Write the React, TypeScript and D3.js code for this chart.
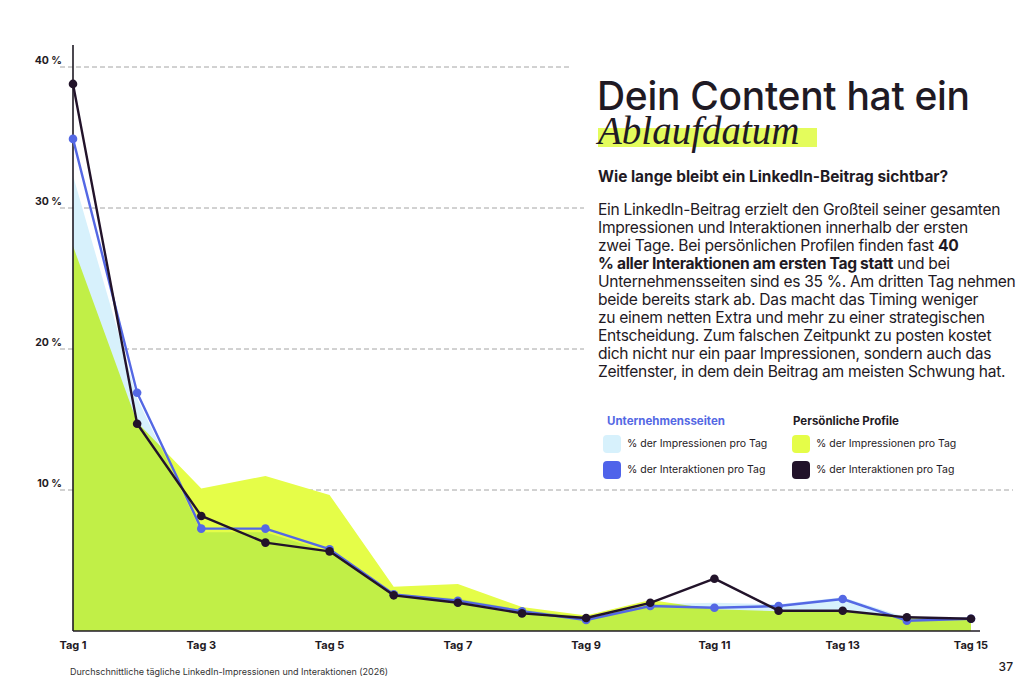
import React from "react";
import * as d3 from "d3";

const days = [1, 2, 3, 4, 5, 6, 7, 8, 9, 10, 11, 12, 13, 14, 15];
const companyImpressions = [32.3, 16.5, 7.0, 7.0, 5.6, 2.6, 2.3, 1.5, 1.0, 1.9, 2.0, 1.9, 2.4, 0.95, 1.0];
const companyInteractions = [34.9, 16.9, 7.26, 7.26, 5.8, 2.6, 2.15, 1.4, 0.78, 1.77, 1.65, 1.77, 2.27, 0.73, 0.87];
const personalImpressions = [27.3, 14.8, 10.1, 11.0, 9.65, 3.14, 3.33, 1.7, 1.1, 2.2, 1.55, 1.4, 1.4, 0.9, 0.85];
const personalInteractions = [38.8, 14.7, 8.16, 6.27, 5.65, 2.53, 2.0, 1.25, 0.92, 2.0, 3.71, 1.44, 1.44, 0.97, 0.87];
const yTicks = [10, 20, 30, 40];
const xTickDays = [1, 3, 5, 7, 9, 11, 13, 15];

const bodyLines: { t: string; b?: boolean }[][] = [
  [{ t: "Ein LinkedIn-Beitrag erzielt den Großteil seiner gesamten" }],
  [{ t: "Impressionen und Interaktionen innerhalb der ersten" }],
  [{ t: "zwei Tage. Bei persönlichen Profilen finden fast " }, { t: "40", b: true }],
  [{ t: "% aller Interaktionen am ersten Tag statt", b: true }, { t: " und bei" }],
  [{ t: "Unternehmensseiten sind es 35 %. Am dritten Tag nehmen" }],
  [{ t: "beide bereits stark ab. Das macht das Timing weniger" }],
  [{ t: "zu einem netten Extra und mehr zu einer strategischen" }],
  [{ t: "Entscheidung. Zum falschen Zeitpunkt zu posten kostet" }],
  [{ t: "dich nicht nur ein paar Impressionen, sondern auch das" }],
  [{ t: "Zeitfenster, in dem dein Beitrag am meisten Schwung hat." }],
];

const C = {
  lightBlue: "#d7f1fc",
  blue: "#5468e4",
  yellow: "#e5fd48",
  dark: "#22132a",
  grid: "#9a9a9a",
  text: "#1f1a24",
};

const SANS = "Inter, 'Noto Sans', sans-serif";

export default function App() {
  const W = 1024;
  const H = 683;
  const x = d3.scaleLinear().domain([1, 15]).range([73, 971]);
  const y = d3.scaleLinear().domain([0, 40]).range([631, 67]);

  const area = (vals: number[]) =>
    d3
      .area<number>()
      .x((_, i) => x(days[i]))
      .y0(y(0))
      .y1((d) => y(d))(vals) || "";
  const line = (vals: number[]) =>
    d3
      .line<number>()
      .x((_, i) => x(days[i]))
      .y((d) => y(d))(vals) || "";

  return (
    <svg
      width={W}
      height={H}
      viewBox={`0 0 ${W} ${H}`}
      style={{ position: "absolute", left: 0, top: 0, background: "#fff" }}
    >
      <rect x={0} y={0} width={W} height={H} fill="#fff" />
      {/* gridlines */}
      {yTicks.map((t) => (
        <g key={t}>
          <line
            x1={60}
            x2={t > 10 ? (t === 40 ? 572 : 584) : 1013}
            y1={y(t)}
            y2={y(t)}
            stroke={C.grid}
            strokeWidth={0.9}
            strokeDasharray="5 3"
          />
          <text
            x={62}
            y={y(t) - 3}
            textAnchor="end"
            fontFamily={SANS}
            fontWeight={700}
            fontSize={10.5}
            fill={C.text}
          >
            {t} %
          </text>
        </g>
      ))}
      {/* areas */}
      <g style={{ isolation: "isolate" }}>
        <path d={area(companyImpressions)} fill={C.lightBlue} />
        <path d={area(personalImpressions)} fill={C.yellow} style={{ mixBlendMode: "multiply" }} />
      </g>
      {/* axes */}
      <line x1={73} x2={73} y1={45} y2={631} stroke={C.text} strokeWidth={1.6} />
      <line x1={73} x2={980} y1={631} y2={631} stroke={C.text} strokeWidth={1.6} />
      {xTickDays.map((d) => (
        <text
          key={d}
          x={x(d)}
          y={649}
          textAnchor="middle"
          fontFamily={SANS}
          fontWeight={700}
          fontSize={11}
          fill={C.text}
        >
          Tag {d}
        </text>
      ))}
      {/* lines */}
      <path d={line(companyInteractions)} fill="none" stroke={C.blue} strokeWidth={2.4} strokeLinejoin="round" />
      {companyInteractions.map((v, i) => (
        <circle key={"b" + i} cx={x(days[i])} cy={y(v)} r={4.3} fill={C.blue} />
      ))}
      <path d={line(personalInteractions)} fill="none" stroke={C.dark} strokeWidth={2.4} strokeLinejoin="round" />
      {personalInteractions.map((v, i) => (
        <circle key={"k" + i} cx={x(days[i])} cy={y(v)} r={4.3} fill={C.dark} />
      ))}

      {/* title block */}
      <text x={597} y={110} fontFamily={SANS} fontWeight={500} fontSize={39} fill={C.text} letterSpacing={-0.3}>
        Dein Content hat ein
      </text>
      <rect x={598} y={128} width={219} height={19} fill="#e4fc5c" />
      <text
        x={598}
        y={144}
        fontFamily="'Liberation Serif', serif"
        fontStyle="italic"
        fontSize={39}
        fill={C.text}
      >
        Ablaufdatum
      </text>
      <text x={598} y={182} fontFamily={SANS} fontWeight={700} fontSize={15.4} fill={C.text}>
        Wie lange bleibt ein LinkedIn-Beitrag sichtbar?
      </text>
      {bodyLines.map((segs, i) => (
        <text key={i} x={598} y={215 + i * 18} fontFamily={SANS} fontSize={15.6} fill={C.text} letterSpacing={-0.3}>
          {segs.map((s, j) => (
            <tspan key={j} fontWeight={s.b ? 700 : 400}>
              {s.t}
            </tspan>
          ))}
        </text>
      ))}

      {/* legend */}
      <text x={607} y={425} fontFamily={SANS} fontWeight={700} fontSize={11.5} fill={C.blue}>
        Unternehmensseiten
      </text>
      <text x={793} y={425} fontFamily={SANS} fontWeight={700} fontSize={11.5} fill={C.text}>
        Persönliche Profile
      </text>
      {[
        { cx: 603, cy: 435, col: C.lightBlue, label: "% der Impressionen pro Tag" },
        { cx: 603, cy: 461, col: "#4f63ea", label: "% der Interaktionen pro Tag" },
        { cx: 792, cy: 435, col: C.yellow, label: "% der Impressionen pro Tag" },
        { cx: 792, cy: 461, col: C.dark, label: "% der Interaktionen pro Tag" },
      ].map((l, i) => (
        <g key={i}>
          <rect x={l.cx} y={l.cy} width={18} height={18} rx={4} fill={l.col} />
          <text x={l.cx + 24} y={l.cy + 12} fontFamily={SANS} fontSize={10.5} fill={C.text}>
            {l.label}
          </text>
        </g>
      ))}

      {/* footer */}
      <text x={70} y={675} fontFamily={SANS} fontSize={9} fill="#333">
        Durchschnittliche tägliche LinkedIn-Impressionen und Interaktionen (2026)
      </text>
      <text x={1013} y={671} textAnchor="end" fontFamily={SANS} fontWeight={500} fontSize={12} fill={C.text}>
        37
      </text>
    </svg>
  );
}
